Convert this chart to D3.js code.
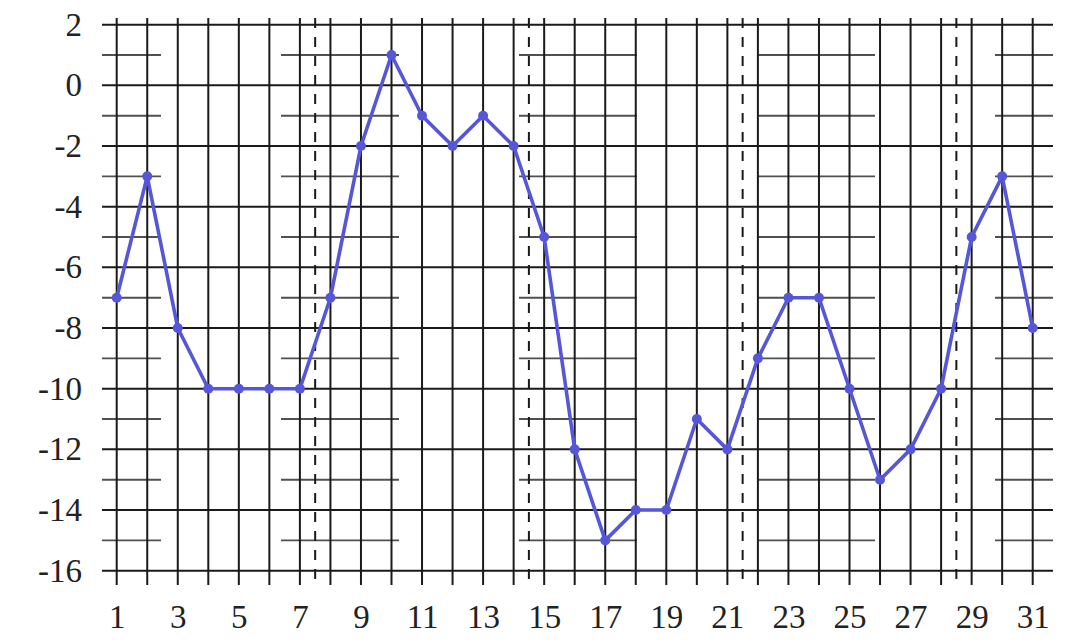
<!DOCTYPE html>
<html>
<head>
<meta charset="utf-8">
<script src="https://cdn.jsdelivr.net/npm/d3@7"></script>
<style>
  html, body { margin: 0; padding: 0; background: #fff; }
  svg { display: block; }
</style>
</head>
<body>
<div id="chart"></div>
<script>
// day index and value
var days = d3.range(1, 32);
var values = [-7, -3, -8, -10, -10, -10, -10, -7, -2, 1, -1, -2, -1, -2, -5, -12,
              -15, -14, -14, -11, -12, -9, -7, -7, -10, -13, -12, -10, -5, -3, -8];
var xTickLabels = [1, 3, 5, 7, 9, 11, 13, 15, 17, 19, 21, 23, 25, 27, 29, 31];
var yTickLabels = [2, 0, -2, -4, -6, -8, -10, -12, -14, -16];
var minorY = [1, -1, -3, -5, -7, -9, -11, -13, -15];
var weekBreaks = [7.5, 14.5, 21.5, 28.5];

var W = 1072, H = 644;
var svg = d3.select("#chart").append("svg")
    .attr("width", W)
    .attr("height", H);

var x = d3.scaleLinear().domain([1, 31]).range([116.7, 1032.7]);
var y = d3.scaleLinear().domain([2, -16]).range([24.7, 570.7]);

// frame reaches a bit beyond the data range
var xLo = x.invert(102), xHi = x.invert(1053);
var yTop = y.invert(18), yBot = y.invert(585);

var grid = svg.append("g");

// minor rows, long-dashed grey
grid.selectAll(".minor")
    .data(minorY)
    .enter().append("line")
    .attr("x1", x(xLo)).attr("x2", x(xHi))
    .attr("y1", function(d) { return y(d); })
    .attr("y2", function(d) { return y(d); })
    .attr("stroke", "#505050")
    .attr("stroke-width", 1.9)
    .attr("stroke-dasharray", "118,120")
    .attr("stroke-dashoffset", 59);

// major rows
grid.selectAll(".major")
    .data(yTickLabels)
    .enter().append("line")
    .attr("x1", x(xLo)).attr("x2", x(xHi))
    .attr("y1", function(d) { return y(d); })
    .attr("y2", function(d) { return y(d); })
    .attr("stroke", "#1a1a1a")
    .attr("stroke-width", 2);

// one column per day
grid.selectAll(".col")
    .data(days)
    .enter().append("line")
    .attr("x1", function(d) { return x(d); })
    .attr("x2", function(d) { return x(d); })
    .attr("y1", y(yTop)).attr("y2", y(yBot))
    .attr("stroke", "#1a1a1a")
    .attr("stroke-width", 2);

// week separators
grid.selectAll(".week")
    .data(weekBreaks)
    .enter().append("line")
    .attr("x1", function(d) { return x(d); })
    .attr("x2", function(d) { return x(d); })
    .attr("y1", y(yTop)).attr("y2", y(yBot))
    .attr("stroke", "#1a1a1a")
    .attr("stroke-width", 2)
    .attr("stroke-dasharray", "10,9");

// axis labels
var xAxis = svg.append("g")
    .attr("transform", "translate(0," + y(-16) + ")")
    .call(d3.axisBottom(x).tickValues(xTickLabels).tickSize(0).tickPadding(34).tickFormat(d3.format("d")));
var yAxis = svg.append("g")
    .attr("transform", "translate(" + x(xLo) + ",0)")
    .call(d3.axisLeft(y).tickValues(yTickLabels).tickSize(0).tickPadding(20).tickFormat(function(d) { return String(d); }));

[xAxis, yAxis].forEach(function(a) {
    a.select(".domain").remove();
    a.selectAll("text")
        .style("font-family", "'Liberation Serif', serif")
        .style("font-size", "33px")
        .style("fill", "#222");
});

var points = days.map(function(d, i) { return {day: d, v: values[i]}; });

var line = d3.line()
    .x(function(d) { return x(d.day); })
    .y(function(d) { return y(d.v); });

svg.append("path")
    .datum(points)
    .attr("d", line)
    .attr("fill", "none")
    .attr("stroke", "#5656d9")
    .attr("stroke-width", 3.6)
    .attr("stroke-linejoin", "round");

svg.selectAll(".dot")
    .data(points)
    .enter().append("circle")
    .attr("cx", function(d) { return x(d.day); })
    .attr("cy", function(d) { return y(d.v); })
    .attr("r", 5)
    .attr("fill", "#5656d9");
</script>
</body>
</html>
